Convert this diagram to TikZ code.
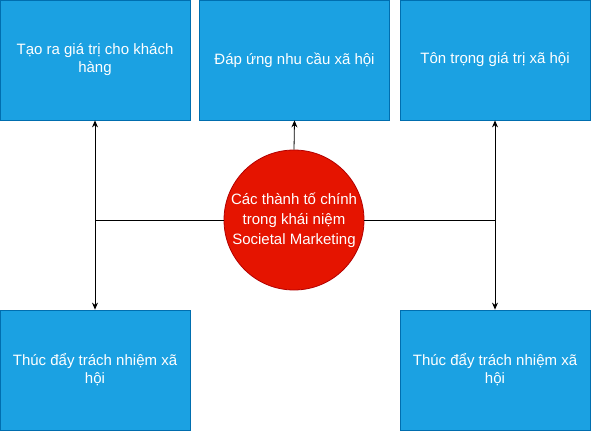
\documentclass[tikz,border=0pt]{standalone}
\usepackage{fontspec}
\setmainfont{Liberation Sans}
\usetikzlibrary{arrows.meta}
\definecolor{boxfill}{HTML}{1BA1E2}
\definecolor{boxline}{HTML}{006EAF}
\definecolor{circfill}{HTML}{E51400}
\definecolor{circline}{HTML}{B20000}
\tikzset{
  blockbox/.style={draw=boxline, fill=boxfill, line width=0.8pt, minimum width=190pt, minimum height=120pt, inner sep=0pt, text=white, font=\fontsize{15pt}{18pt}\selectfont, align=center},
  hub/.style={circle, draw=circline, fill=circfill, line width=0.8pt, minimum size=140pt, inner sep=0pt, text=white, font=\fontsize{15pt}{20pt}\selectfont, align=center},
  conn/.style={draw=black, line width=0.8pt, -{Stealth[length=7pt,width=6pt]}}
}
\begin{document}
\begin{tikzpicture}[x=1pt,y=-1pt]
\useasboundingbox (0,0) rectangle (591,431);
\node[blockbox] (tl) at (95,60) {Tạo ra giá trị cho khách\\hàng};
\node[blockbox] (tm) at (294.5,60) {Đáp ứng nhu cầu xã hội};
\node[blockbox] (tr) at (495,60) {Tôn trọng giá trị xã hội};
\node[blockbox] (bl) at (95,370) {Thúc đẩy trách nhiệm xã\\hội};
\node[blockbox] (br) at (495,370) {Thúc đẩy trách nhiệm xã\\hội};
\node[hub] (c) at (294,220) {Các thành tố chính\\trong khái niệm\\Societal Marketing};
\draw[conn] (c.north) -- (tm.south);
\draw[conn] (c.west) -| (tl.south);
\draw[conn] (c.west) -| (bl.north);
\draw[conn] (c.east) -| (tr.south);
\draw[conn] (c.east) -| (br.north);
\end{tikzpicture}
\end{document}
